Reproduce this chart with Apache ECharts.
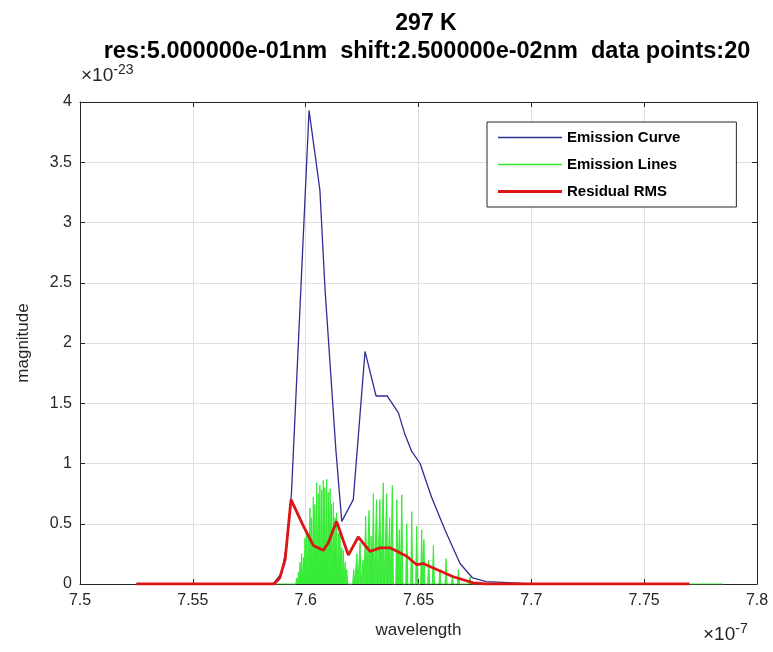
<!DOCTYPE html>
<html>
<head>
<meta charset="utf-8">
<script src="https://cdn.jsdelivr.net/npm/echarts@6/dist/echarts.min.js"></script>
<style>
html,body{margin:0;padding:0;background:#fff;}
#chart{width:773px;height:652px;}
</style>
</head>
<body>
<div id="chart"></div>
<script>
// wavelength in units of 1e-7, magnitude in units of 1e-23
const curveWavelength = [7.525, 7.585, 7.586, 7.5893, 7.5915, 7.5937, 7.6015, 7.6063, 7.6086, 7.6134, 7.616, 7.6211, 7.6263, 7.6312, 7.6362, 7.6411, 7.6440, 7.6470, 7.6507, 7.6558, 7.6617, 7.6684, 7.6740, 7.6800, 7.6900, 7.7000, 7.770];
const curveMagnitude  = [0, 0, 0.01, 0.09, 0.31, 0.75, 3.93, 3.27, 2.44, 1.11, 0.52, 0.70, 1.93, 1.56, 1.56, 1.42, 1.24, 1.10, 1.00, 0.72, 0.45, 0.17, 0.05, 0.02, 0.012, 0, 0];

const rmsWavelength = [7.525, 7.586, 7.5885, 7.5909, 7.5935, 7.5990, 7.6034, 7.6078, 7.6100, 7.6137, 7.6189, 7.6233, 7.6285, 7.6329, 7.6374, 7.6448, 7.6492, 7.6521, 7.6581, 7.6654, 7.6743, 7.680, 7.770];
const rmsMagnitude  = [0, 0, 0.05, 0.20, 0.70, 0.48, 0.32, 0.28, 0.34, 0.52, 0.24, 0.39, 0.27, 0.30, 0.30, 0.23, 0.16, 0.17, 0.12, 0.06, 0.01, 0, 0];

// emission lines, first (dense) branch
const rBranchCenters = [7.5960, 7.5968, 7.5975, 7.5982, 7.5990, 7.5997, 7.6004, 7.6011, 7.6019, 7.6026, 7.6034, 7.6041, 7.6049, 7.6056, 7.6063, 7.6071, 7.6078, 7.6085, 7.6093, 7.6100, 7.6108, 7.6115, 7.6123, 7.6130, 7.6137, 7.6145, 7.6152, 7.6160, 7.6167, 7.6175, 7.6182];
const rBranchHeights = [0.05, 0.10, 0.18, 0.25, 0.22, 0.38, 0.45, 0.40, 0.63, 0.55, 0.72, 0.66, 0.84, 0.75, 0.82, 0.78, 0.86, 0.80, 0.87, 0.76, 0.79, 0.66, 0.68, 0.55, 0.59, 0.42, 0.45, 0.30, 0.28, 0.18, 0.12];
// emission lines, second (spaced) branch
const pBranchCenters = [7.6213, 7.6227, 7.6241, 7.6254, 7.6266, 7.6281, 7.6290, 7.6300, 7.6314, 7.6329, 7.6344, 7.6359, 7.6372, 7.6384, 7.6404, 7.6415, 7.6426, 7.6448, 7.6470, 7.6492, 7.6514, 7.6524, 7.6545, 7.6566, 7.6595, 7.6622, 7.6650, 7.6677, 7.6728];
const pBranchHeights = [0.12, 0.25, 0.34, 0.20, 0.56, 0.61, 0.40, 0.75, 0.70, 0.70, 0.84, 0.75, 0.55, 0.82, 0.70, 0.45, 0.74, 0.50, 0.60, 0.48, 0.45, 0.37, 0.20, 0.32, 0.12, 0.21, 0.06, 0.12, 0.06];
const linesStart = 7.525, linesEnd = 7.785;

const titleLine1 = '297 K';
const titleLine2 = 'res:5.000000e-01nm  shift:2.500000e-02nm  data points:20';
const seriesNames = ['Emission Curve', 'Emission Lines', 'Residual RMS'];

function pairs(xs, ys) { return xs.map((x, i) => [x, ys[i]]); }
function spikes(centers, heights, half) {
  const out = [];
  centers.forEach((c, i) => { out.push([c - half, 0], [c, heights[i]], [c + half, 0]); });
  return out;
}
const linesData = [[linesStart, 0]]
  .concat(spikes(rBranchCenters, rBranchHeights, 0.00037))
  .concat(spikes(pBranchCenters, pBranchHeights, 0.00045))
  .concat([[linesEnd, 0]]);

const axisColor = '#262626';
const font = 'Liberation Sans, Arial, sans-serif';
const blue = '#2e2e95', green = '#33ea33', red = '#dd1515';
// thin horizontal bar icon (invisible sliver keeps the full icon box)
const thinIcon = 'path://M0,6.2h64v1.6h-64z M0,0h0.01v14h-0.01z';
const thickIcon = 'path://M0,5.5h64v3h-64z M0,0h0.01v14h-0.01z';

const chart = echarts.init(document.getElementById('chart'), null, {renderer: 'canvas'});
chart.setOption({
  animation: false,
  backgroundColor: '#ffffff',
  title: [
    {text: titleLine1, left: 421, top: 7, textAlign: 'center',
     textStyle: {fontFamily: font, fontWeight: 'bold', fontSize: 23, color: '#000'}},
    {text: titleLine2, left: 422, top: 35, textAlign: 'center',
     textStyle: {fontFamily: font, fontWeight: 'bold', fontSize: 23.5, color: '#000'}}
  ],
  grid: {left: 80, right: 16, top: 102, bottom: 68, containLabel: false},
  legend: {
    data: [
      {name: seriesNames[0], icon: thinIcon},
      {name: seriesNames[1], icon: thinIcon},
      {name: seriesNames[2], icon: thickIcon}
    ],
    orient: 'vertical', left: 487, top: 122,
    padding: [8, 56, 8, 11],
    itemWidth: 64, itemHeight: 14, itemGap: 12,
    backgroundColor: '#fff', borderColor: axisColor, borderWidth: 1,
    textStyle: {fontFamily: 'Liberation Sans Narrow, Arial Narrow, Liberation Sans, sans-serif', fontWeight: 'bold', fontSize: 15, color: '#000'}
  },
  xAxis: [{
    type: 'value', min: 7.5, max: 7.8, interval: 0.05, position: 'bottom',
    name: 'wavelength', nameLocation: 'middle', nameGap: 38,
    nameTextStyle: {fontFamily: font, fontSize: 17, color: axisColor},
    axisLine: {show: true, onZero: false, lineStyle: {color: axisColor}},
    axisTick: {show: true, inside: true, length: 5, lineStyle: {color: axisColor}},
    axisLabel: {fontFamily: font, fontSize: 16, color: axisColor, margin: 9},
    splitLine: {show: true, lineStyle: {color: '#dedede'}}
  }, {
    type: 'value', min: 7.5, max: 7.8, interval: 0.05, position: 'top',
    axisLine: {show: true, onZero: false, lineStyle: {color: axisColor}},
    axisTick: {show: true, inside: true, length: 5, lineStyle: {color: axisColor}},
    axisLabel: {show: false}, splitLine: {show: false}
  }],
  yAxis: [{
    type: 'value', min: 0, max: 4, interval: 0.5, position: 'left',
    name: 'magnitude', nameLocation: 'middle', nameGap: 48,
    nameTextStyle: {fontFamily: font, fontSize: 17, color: axisColor},
    axisLine: {show: true, onZero: false, lineStyle: {color: axisColor}},
    axisTick: {show: true, inside: true, length: 5, lineStyle: {color: axisColor}},
    axisLabel: {fontFamily: font, fontSize: 16, color: axisColor, margin: 8},
    splitLine: {show: true, lineStyle: {color: '#dedede'}}
  }, {
    type: 'value', min: 0, max: 4, interval: 0.5, position: 'right',
    axisLine: {show: true, onZero: false, lineStyle: {color: axisColor}},
    axisTick: {show: true, inside: true, length: 5, lineStyle: {color: axisColor}},
    axisLabel: {show: false}, splitLine: {show: false}
  }],
  graphic: [
    {type: 'text', left: 81, top: 63, style: {
      text: '×10{s|-23}', rich: {s: {fontSize: 14, verticalAlign: 'top', padding: [0,0,12,0], fontFamily: font, fill: axisColor}},
      font: '19px ' + font, fill: axisColor}},
    {type: 'text', left: 703, top: 622, style: {
      text: '×10{s|-7}', rich: {s: {fontSize: 14, verticalAlign: 'top', padding: [0,0,12,0], fontFamily: font, fill: axisColor}},
      font: '19px ' + font, fill: axisColor}}
  ],
  series: [
    {name: seriesNames[0], type: 'line', data: pairs(curveWavelength, curveMagnitude),
     symbol: 'none', z: 3, lineStyle: {color: blue, width: 1.3}, itemStyle: {color: blue}},
    {name: seriesNames[1], type: 'line', data: linesData,
     symbol: 'none', z: 2, lineStyle: {color: green, width: 1}, itemStyle: {color: green},
     areaStyle: {color: green, opacity: 0.9, origin: 'start'}},
    {name: seriesNames[2], type: 'line', data: pairs(rmsWavelength, rmsMagnitude),
     symbol: 'none', z: 4, lineStyle: {color: red, width: 2.8}, itemStyle: {color: red}}
  ]
});
</script>
</body>
</html>
